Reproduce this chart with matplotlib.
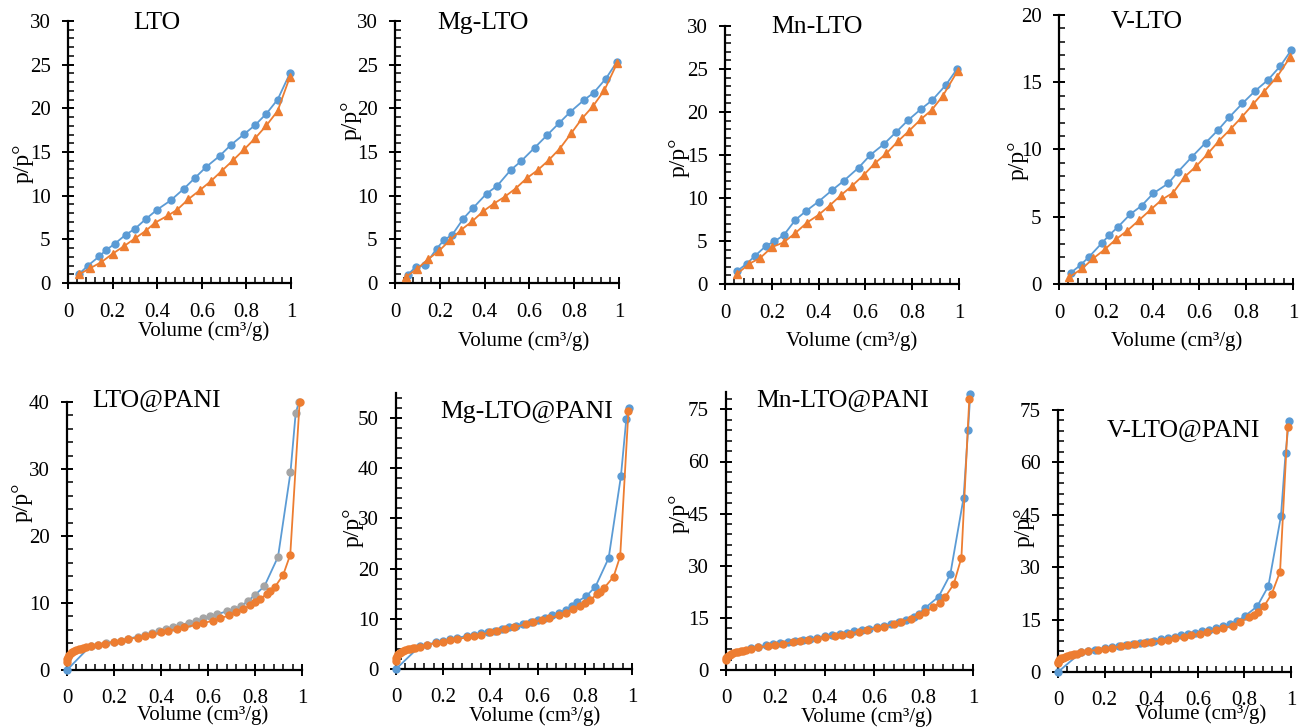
import matplotlib
matplotlib.use("Agg")
import matplotlib.pyplot as plt
from matplotlib.ticker import MultipleLocator

plt.rcParams["font.family"] = ["Liberation Serif", "DejaVu Serif"]

BLUE = "#5B9BD5"
ORANGE = "#ED7D31"
GRAY = "#A5A5A5"

# ---------------- data ----------------
# top row: blue circles = desorption, orange triangles = adsorption
lto_des_x = [0.05, 0.09, 0.14, 0.17, 0.21, 0.26, 0.30, 0.35, 0.40, 0.46, 0.52, 0.57, 0.62, 0.68, 0.73, 0.79, 0.84, 0.89, 0.94, 0.995]
lto_des_y = [1.05, 2.0, 3.05, 3.75, 4.5, 5.55, 6.2, 7.35, 8.4, 9.45, 10.8, 12.05, 13.3, 14.55, 15.8, 17.05, 18.1, 19.4, 21.0, 24.0]
lto_ads_x = [0.05, 0.10, 0.15, 0.20, 0.25, 0.30, 0.35, 0.39, 0.45, 0.49, 0.54, 0.59, 0.64, 0.69, 0.74, 0.79, 0.84, 0.89, 0.94, 0.995]
lto_ads_y = [1.0, 1.7, 2.4, 3.35, 4.2, 5.1, 6.0, 6.9, 7.75, 8.4, 9.6, 10.6, 11.65, 12.85, 14.05, 15.3, 16.6, 18.05, 19.7, 23.6]

mg_des_x = [0.058, 0.092, 0.134, 0.186, 0.218, 0.256, 0.305, 0.349, 0.409, 0.456, 0.516, 0.563, 0.623, 0.679, 0.731, 0.783, 0.843, 0.887, 0.941, 0.991]
mg_des_y = [0.96, 1.83, 2.03, 3.94, 4.89, 5.54, 7.37, 8.6, 10.24, 11.12, 12.92, 13.95, 15.48, 16.93, 18.27, 19.6, 20.94, 21.78, 23.39, 25.33]
mg_ads_x = [0.048, 0.10, 0.147, 0.196, 0.245, 0.293, 0.345, 0.394, 0.441, 0.489, 0.538, 0.59, 0.637, 0.686, 0.736, 0.786, 0.835, 0.884, 0.935, 0.991]
mg_ads_y = [0.69, 1.64, 2.71, 3.67, 4.89, 6.04, 7.07, 8.22, 9.09, 9.86, 10.81, 12.04, 12.92, 14.06, 15.4, 17.12, 18.84, 20.25, 22.09, 25.14]

mn_des_x = [0.05, 0.093, 0.129, 0.176, 0.211, 0.251, 0.301, 0.347, 0.40, 0.459, 0.507, 0.571, 0.621, 0.679, 0.73, 0.783, 0.837, 0.886, 0.943, 0.993]
mn_des_y = [1.47, 2.36, 3.29, 4.45, 4.95, 5.68, 7.46, 8.5, 9.59, 10.94, 11.98, 13.53, 15.0, 16.27, 17.63, 19.06, 20.33, 21.38, 23.12, 25.05]
mn_ads_x = [0.051, 0.104, 0.15, 0.201, 0.25, 0.30, 0.351, 0.40, 0.447, 0.497, 0.544, 0.593, 0.64, 0.69, 0.74, 0.787, 0.836, 0.883, 0.93, 0.994]
mn_ads_y = [1.16, 2.36, 3.02, 4.29, 4.83, 5.91, 7.15, 8.04, 9.12, 10.36, 11.44, 12.68, 14.03, 15.19, 16.62, 17.82, 19.13, 20.22, 21.84, 24.78]

v_des_x = [0.051, 0.092, 0.129, 0.182, 0.215, 0.253, 0.304, 0.353, 0.403, 0.467, 0.509, 0.569, 0.627, 0.68, 0.727, 0.784, 0.839, 0.893, 0.946, 0.993]
v_des_y = [0.84, 1.41, 2.03, 3.02, 3.64, 4.26, 5.18, 5.82, 6.74, 7.48, 8.35, 9.47, 10.51, 11.45, 12.39, 13.43, 14.37, 15.17, 16.21, 17.4]
v_ads_x = [0.043, 0.10, 0.147, 0.196, 0.243, 0.292, 0.343, 0.393, 0.441, 0.488, 0.538, 0.587, 0.637, 0.683, 0.733, 0.78, 0.829, 0.876, 0.932, 0.989]
v_ads_y = [0.5, 1.16, 1.91, 2.58, 3.32, 3.97, 4.76, 5.55, 6.29, 6.79, 7.98, 8.77, 9.71, 10.63, 11.52, 12.39, 13.36, 14.3, 15.41, 16.9]

# bottom row: blue = desorption, orange = adsorption
ltop_des_x = [0.0, 0.10, 0.13, 0.165, 0.20, 0.23, 0.26, 0.30, 0.33, 0.36, 0.39, 0.42, 0.45, 0.48, 0.52, 0.55, 0.58, 0.61, 0.64, 0.68, 0.71, 0.74, 0.77, 0.80, 0.84, 0.898, 0.951, 0.973, 0.987]
ltop_des_y = [0.0, 3.6, 3.8, 4.0, 4.2, 4.4, 4.7, 4.95, 5.2, 5.45, 5.8, 6.1, 6.45, 6.7, 7.05, 7.35, 7.7, 8.05, 8.35, 8.75, 9.1, 9.5, 10.3, 11.2, 12.5, 16.9, 29.5, 38.3, 40.0]
ltop_ads_x = [0.0, 0.002, 0.005, 0.01, 0.015, 0.02, 0.03, 0.04, 0.05, 0.06, 0.07, 0.08, 0.10, 0.13, 0.16, 0.20, 0.23, 0.26, 0.30, 0.33, 0.36, 0.40, 0.43, 0.47, 0.50, 0.55, 0.58, 0.62, 0.65, 0.69, 0.72, 0.75, 0.78, 0.80, 0.82, 0.85, 0.865, 0.885, 0.92, 0.95, 0.99]
ltop_ads_y = [1.2, 1.7, 2.0, 2.3, 2.5, 2.65, 2.85, 3.0, 3.1, 3.2, 3.3, 3.4, 3.55, 3.75, 3.95, 4.2, 4.4, 4.6, 4.85, 5.05, 5.3, 5.6, 5.85, 6.1, 6.35, 6.75, 7.0, 7.35, 7.7, 8.15, 8.6, 9.1, 9.7, 10.1, 10.6, 11.3, 11.8, 12.4, 14.2, 17.2, 40.0]

mgp_des_x = [0.0, 0.10, 0.13, 0.17, 0.20, 0.23, 0.26, 0.30, 0.33, 0.36, 0.39, 0.42, 0.45, 0.48, 0.51, 0.54, 0.57, 0.60, 0.63, 0.66, 0.69, 0.72, 0.745, 0.767, 0.806, 0.845, 0.901, 0.953, 0.976, 0.988]
mgp_des_y = [0.0, 4.5, 4.85, 5.3, 5.6, 5.9, 6.2, 6.6, 6.85, 7.1, 7.4, 7.65, 8.0, 8.3, 8.6, 8.95, 9.35, 9.75, 10.15, 10.7, 11.2, 11.8, 12.5, 13.4, 14.5, 16.4, 22.1, 38.4, 49.9, 52.1]
mgp_ads_x = [0.0, 0.002, 0.005, 0.01, 0.015, 0.02, 0.03, 0.04, 0.05, 0.06, 0.07, 0.08, 0.10, 0.13, 0.17, 0.20, 0.23, 0.26, 0.30, 0.33, 0.36, 0.40, 0.43, 0.46, 0.50, 0.55, 0.58, 0.62, 0.65, 0.69, 0.72, 0.75, 0.78, 0.80, 0.823, 0.85, 0.863, 0.883, 0.922, 0.95, 0.985]
mgp_ads_y = [1.5, 2.1, 2.5, 2.9, 3.15, 3.35, 3.6, 3.8, 3.95, 4.05, 4.15, 4.25, 4.45, 4.8, 5.2, 5.45, 5.7, 5.95, 6.3, 6.55, 6.85, 7.3, 7.6, 7.9, 8.3, 8.9, 9.3, 9.75, 10.1, 10.7, 11.2, 11.9, 12.6, 13.1, 13.7, 14.9, 15.4, 16.2, 18.4, 22.5, 51.5]

mnp_des_x = [0.10, 0.13, 0.16, 0.19, 0.22, 0.25, 0.28, 0.31, 0.34, 0.37, 0.40, 0.43, 0.46, 0.49, 0.52, 0.55, 0.58, 0.61, 0.64, 0.67, 0.70, 0.73, 0.76, 0.78, 0.807, 0.861, 0.908, 0.962, 0.98, 0.989]
mnp_des_y = [6.3, 6.7, 7.1, 7.4, 7.75, 8.05, 8.4, 8.75, 9.05, 9.35, 9.7, 10.0, 10.4, 10.75, 11.1, 11.5, 11.9, 12.3, 12.75, 13.3, 13.8, 14.5, 15.3, 16.1, 17.9, 21.1, 27.5, 49.6, 69.2, 79.3]
mnp_ads_x = [0.0, 0.002, 0.005, 0.01, 0.015, 0.02, 0.03, 0.04, 0.05, 0.06, 0.07, 0.08, 0.10, 0.13, 0.17, 0.20, 0.23, 0.27, 0.30, 0.33, 0.37, 0.40, 0.44, 0.47, 0.50, 0.54, 0.57, 0.61, 0.64, 0.68, 0.71, 0.75, 0.78, 0.807, 0.838, 0.865, 0.888, 0.922, 0.953, 0.985]
mnp_ads_y = [3.0, 3.4, 3.8, 4.1, 4.35, 4.55, 4.8, 5.05, 5.25, 5.45, 5.6, 5.75, 6.1, 6.5, 6.9, 7.2, 7.5, 7.95, 8.3, 8.6, 9.05, 9.4, 9.8, 10.15, 10.5, 11.05, 11.5, 12.05, 12.5, 13.2, 13.8, 14.8, 15.7, 16.6, 18.0, 19.3, 21.1, 24.7, 32.3, 78.0]

vp_des_x = [0.0, 0.10, 0.13, 0.16, 0.20, 0.23, 0.26, 0.29, 0.32, 0.35, 0.38, 0.41, 0.44, 0.47, 0.50, 0.53, 0.56, 0.59, 0.62, 0.65, 0.68, 0.71, 0.74, 0.77, 0.802, 0.855, 0.903, 0.957, 0.977, 0.991]
vp_des_y = [0.0, 5.7, 6.05, 6.4, 6.9, 7.2, 7.5, 7.8, 8.1, 8.4, 8.7, 9.0, 9.35, 9.7, 10.1, 10.45, 10.85, 11.2, 11.6, 12.0, 12.6, 13.1, 13.8, 14.6, 16.0, 18.8, 24.6, 44.7, 62.8, 71.9]
vp_ads_x = [0.0, 0.002, 0.005, 0.01, 0.015, 0.02, 0.03, 0.04, 0.05, 0.06, 0.07, 0.08, 0.10, 0.13, 0.17, 0.20, 0.23, 0.27, 0.30, 0.33, 0.37, 0.40, 0.44, 0.47, 0.50, 0.54, 0.57, 0.61, 0.64, 0.68, 0.71, 0.75, 0.78, 0.82, 0.84, 0.86, 0.884, 0.917, 0.953, 0.985]
vp_ads_y = [2.6, 3.0, 3.35, 3.65, 3.9, 4.1, 4.35, 4.6, 4.8, 4.95, 5.1, 5.25, 5.6, 6.0, 6.35, 6.6, 6.9, 7.3, 7.6, 7.9, 8.3, 8.6, 9.0, 9.3, 9.6, 10.1, 10.5, 11.0, 11.4, 12.0, 12.5, 13.3, 14.2, 15.7, 16.3, 17.2, 18.8, 22.3, 28.7, 70.0]

titles = ["LTO", "Mg-LTO", "Mn-LTO", "V-LTO",
          "LTO@PANI", "Mg-LTO@PANI", "Mn-LTO@PANI", "V-LTO@PANI"]
ymax = [30, 30, 30, 20, 40, 55, 80, 75]
ystep = [5, 5, 5, 5, 10, 10, 15, 15]

# ---------------- layout (pixels of the 1302x728 canvas) ----------------
W, H = 1302, 728
# x of y-axis, x of value 1, y of value 0, y of ymax
boxes = [(68, 291, 283, 21), (395, 619, 283, 21), (725, 959, 284, 26), (1059, 1293, 284, 15),
         (67, 302, 670, 402), (396, 632, 669, 393), (726, 973, 670, 392), (1058, 1291, 672, 410)]
title_xy = [(157, 23), (483, 23), (817, 27), (1147, 22),
            (157, 400), (527, 412), (843, 400), (1183, 430)]
xlab_xy = [(204, 331), (524, 341), (852, 341), (1177, 341),
           (203, 715), (535, 716), (867, 717), (1201, 714)]
ylab_xy = [(23, 163), (351, 120), (679, 157), (1018, 160),
           (22, 502), (353, 527), (679, 513), (1024, 527)]

fig = plt.figure(figsize=(W / 100, H / 100), dpi=100)

top_series = [(lto_des_x, lto_des_y, lto_ads_x, lto_ads_y),
              (mg_des_x, mg_des_y, mg_ads_x, mg_ads_y),
              (mn_des_x, mn_des_y, mn_ads_x, mn_ads_y),
              (v_des_x, v_des_y, v_ads_x, v_ads_y)]
bot_series = [(ltop_des_x, ltop_des_y, ltop_ads_x, ltop_ads_y),
              (mgp_des_x, mgp_des_y, mgp_ads_x, mgp_ads_y),
              (mnp_des_x, mnp_des_y, mnp_ads_x, mnp_ads_y),
              (vp_des_x, vp_des_y, vp_ads_x, vp_ads_y)]

for i in range(8):
    x0, x1, y0, y1 = boxes[i]
    ax = fig.add_axes([x0 / W, 1 - y0 / H, (x1 - x0) / W, (y0 - y1) / H])
    top = i < 4
    dx, dy, axx, ayy = top_series[i] if top else bot_series[i - 4]

    if top:
        ax.plot(dx, dy, "-o", color=BLUE, lw=1.3, ms=5, clip_on=False, zorder=3)
        ax.plot(axx, ayy, "-^", color=ORANGE, lw=1.3, ms=5.5, clip_on=False, zorder=4)
    else:
        ax.plot(dx, dy, "-", color=BLUE, lw=1.3, clip_on=False, zorder=3)
        if i == 4:
            # LTO@PANI: desorption markers are grey, the origin point blue
            ax.plot(dx[1:], dy[1:], "o", color=GRAY, ms=5, clip_on=False, zorder=3)
            ax.plot(dx[:1], dy[:1], "o", color=BLUE, ms=5, clip_on=False, zorder=3)
        else:
            ax.plot(dx, dy, "o", color=BLUE, ms=5, clip_on=False, zorder=3)
        ax.plot(axx, ayy, "-o", color=ORANGE, lw=1.3, ms=5, clip_on=False, zorder=4)

    ax.set_xlim(0, 1)
    ax.set_ylim(0, ymax[i])
    ax.xaxis.set_major_locator(MultipleLocator(0.2))
    ax.xaxis.set_minor_locator(MultipleLocator(0.04))
    ax.yaxis.set_major_locator(MultipleLocator(ystep[i]))
    ax.yaxis.set_minor_locator(MultipleLocator(ystep[i] / 5))
    ax.xaxis.set_major_formatter(plt.FuncFormatter(lambda v, p: f"{v:g}"))
    for s in ("top", "right"):
        ax.spines[s].set_visible(False)
    for s in ("left", "bottom"):
        ax.spines[s].set_linewidth(1.6)
    ax.tick_params(which="major", direction="inout", length=9, width=1.4, labelsize=15)
    ax.tick_params(which="minor", direction="in", length=4, width=1.1)
    ax.tick_params(axis="x", which="major", pad=10 if top else 9)
    ax.tick_params(axis="y", which="major", pad=8)

    fig.text(title_xy[i][0] / W, 1 - title_xy[i][1] / H, titles[i], fontsize=18.5,
             ha="center", va="center")
    fig.text(xlab_xy[i][0] / W, 1 - xlab_xy[i][1] / H, "Volume (cm³/g)", fontsize=15,
             ha="center", va="center")
    fig.text(ylab_xy[i][0] / W, 1 - ylab_xy[i][1] / H, "p/p°", fontsize=17,
             ha="center", va="center", rotation=90)

fig.savefig("out.png", dpi=100)
